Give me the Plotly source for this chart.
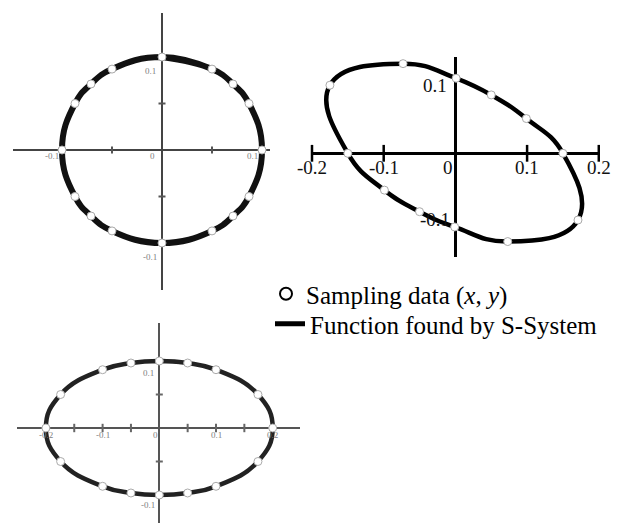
import plotly.graph_objects as go

# ---- panel 1: circle of radius 0.1 ----
circ_x = [0.0, 0.05, 0.071, 0.087, 0.1, 0.087, 0.071, 0.05, 0.0,
          -0.05, -0.071, -0.087, -0.1, -0.087, -0.071, -0.05]
circ_y = [0.1, 0.087, 0.071, 0.05, 0.0, -0.05, -0.071, -0.087, -0.1,
          -0.087, -0.071, -0.05, 0.0, 0.05, 0.071, 0.087]

# ---- panel 2: tilted ellipse ----
tilt_x = [0.001, 0.05, 0.099, 0.15, 0.171, 0.073, -0.001, -0.05, -0.099, -0.15, -0.175, -0.073]
tilt_y = [0.108, 0.084, 0.05, 0.0, -0.096, -0.127, -0.106, -0.084, -0.053, 0.0, 0.098, 0.129]

# ---- panel 3: ellipse 0.2 x 0.1 ----
ell_x = [0.0, 0.05, 0.1, 0.174, 0.2, 0.174, 0.1, 0.05, 0.0,
         -0.05, -0.1, -0.174, -0.2, -0.174, -0.1, -0.05]
ell_y = [0.1, 0.097, 0.087, 0.05, 0.0, -0.05, -0.087, -0.097, -0.1,
         -0.097, -0.087, -0.05, 0.0, 0.05, 0.087, 0.097]

# tick positions and labels
p1_ticks = [-0.05, 0.05]
p1_xlabels = [-0.1, 0.0, 0.1]
p1_ylabels = [0.1, -0.1]
p2_xticks = [-0.2, -0.1, 0.1, 0.2]
p2_xlabels = [-0.2, -0.1, 0.0, 0.1, 0.2]
p2_ylabels = [0.1, -0.1]
p3_xticks = [-0.15, -0.1, -0.05, 0.05, 0.1, 0.15]
p3_yticks = [-0.05, 0.05]
p3_xlabels = [-0.2, -0.1, 0.0, 0.1, 0.2]
p3_ylabels = [0.1, -0.1]

W, H = 627, 525


def closed(v):
    return list(v) + list(v[:2])


def fmt(v):
    return "0" if v == 0 else f"{v:g}"


fig = go.Figure()

panels = [
    ("x", "y", circ_x, circ_y, 6, "#111"),
    ("x2", "y2", tilt_x, tilt_y, 4.5, "#000"),
    ("x3", "y3", ell_x, ell_y, 4.5, "#222"),
]
for xa, ya, px, py, lw, col in panels:
    fig.add_trace(go.Scatter(
        x=closed(px), y=closed(py), xaxis=xa, yaxis=ya, mode="lines",
        line=dict(shape="spline", smoothing=1.3, width=lw, color=col),
        showlegend=False, hoverinfo="skip"))
    fig.add_trace(go.Scatter(
        x=px, y=py, xaxis=xa, yaxis=ya, mode="markers",
        marker=dict(symbol="circle", size=8, color="white",
                    line=dict(width=1, color="#aaa")),
        showlegend=False, cliponaxis=False))

# small tick marks drawn on the crossing axes
def ticks(xa, ya, xs, ys, sym, size, col, w):
    fig.add_trace(go.Scatter(
        x=xs, y=ys, xaxis=xa, yaxis=ya, mode="markers",
        marker=dict(symbol=sym, size=size, line=dict(width=w, color=col)),
        showlegend=False, hoverinfo="skip", cliponaxis=False))

ticks("x", "y", p1_ticks, [0] * len(p1_ticks), "line-ns", 5, "#555", 2)
ticks("x", "y", [0] * len(p1_ticks), p1_ticks, "line-ew", 5, "#555", 2)
ticks("x2", "y2", p2_xticks, [0] * len(p2_xticks), "line-ns", 12, "#000", 2.5)
ticks("x3", "y3", p3_xticks, [0] * len(p3_xticks), "line-ns", 6, "#666", 2)
ticks("x3", "y3", [0] * len(p3_yticks), p3_yticks, "line-ew", 5, "#666", 2)

# legend entries
fig.add_trace(go.Scatter(
    x=[None], y=[None], mode="markers", name="Sampling data (<i>x</i>, <i>y</i>)",
    marker=dict(symbol="circle-open", size=14, color="#000", line=dict(width=1.6)),
    legend="legend"))
fig.add_trace(go.Scatter(
    x=[None], y=[None], mode="lines", name="Function found by S-System",
    line=dict(width=9, color="#000"), legend="legend2"))

ann = []
small = dict(family="Liberation Serif", size=9, color="#808080")
big = dict(family="Liberation Serif", size=19, color="#111")
for v in p1_xlabels:
    ann.append(dict(x=v, y=0, xref="x", yref="y", text=fmt(v), showarrow=False,
                    font=small, xshift=-10, yshift=-6))
for v in p1_ylabels:
    ann.append(dict(x=0, y=v, xref="x", yref="y", text=fmt(v), showarrow=False,
                    font=small, xshift=-12, yshift=-14))
for v in p2_xlabels:
    ann.append(dict(x=v, y=0, xref="x2", yref="y2", text=fmt(v), showarrow=False,
                    font=big, xshift=-7 if v == 0 else 0, yshift=-14))
for v in p2_ylabels:
    ann.append(dict(x=0, y=v, xref="x2", yref="y2", text=fmt(v), showarrow=False,
                    font=big, xshift=-20, yshift=-2 if v > 0 else 3))
for v in p3_xlabels:
    ann.append(dict(x=v, y=0, xref="x3", yref="y3", text=fmt(v), showarrow=False,
                    font=small, xshift=-4 if v == 0 else 0, yshift=-7))
for v in p3_ylabels:
    ann.append(dict(x=0, y=v, xref="x3", yref="y3", text=fmt(v), showarrow=False,
                    font=small, xshift=-11, yshift=-12 if v > 0 else -10))


def dom(a, b, total, flip=False):
    if flip:
        return [1 - b / total, 1 - a / total]
    return [a / total, b / total]


def ax(domain, rng, zc, zw):
    return dict(domain=domain, range=rng, showgrid=False, showticklabels=False,
                ticks="", showline=False, zeroline=True, zerolinecolor=zc,
                zerolinewidth=zw, fixedrange=True)

legend_font = dict(family="Liberation Serif", size=25, color="#000")
fig.update_layout(
    width=W, height=H, margin=dict(l=0, r=0, t=0, b=0),
    paper_bgcolor="white", plot_bgcolor="rgba(0,0,0,0)",
    xaxis=ax(dom(13, 270, W), [(13 - 162) / 1000, (270 - 162) / 1000], "#444", 2),
    yaxis=ax(dom(13, 290, H, True), [(150 - 290) / 930, (150 - 13) / 930], "#444", 2),
    xaxis2=ax(dom(312, 600, W), [-0.2, 0.2017], "#000", 3),
    yaxis2=ax(dom(57, 257, H, True), [(153.3 - 257) / 695, (153.3 - 57) / 695], "#000", 3),
    xaxis3=ax(dom(17, 300, W), [(17 - 159.3) / 567, (300 - 159.3) / 567], "#555", 2),
    yaxis3=ax(dom(323, 523, H, True), [(428 - 523) / 670, (428 - 323) / 670], "#555", 2),
    annotations=ann,
    legend=dict(x=266 / W, y=1 - 294 / H, xanchor="left", yanchor="middle",
                font=legend_font, bgcolor="rgba(0,0,0,0)", itemwidth=30,
                itemsizing="constant"),
    legend2=dict(x=270 / W, y=1 - 324 / H, xanchor="left", yanchor="middle",
                 font=legend_font, bgcolor="rgba(0,0,0,0)", itemwidth=30,
                 itemsizing="constant"),
)

fig.write_html("out.html")
